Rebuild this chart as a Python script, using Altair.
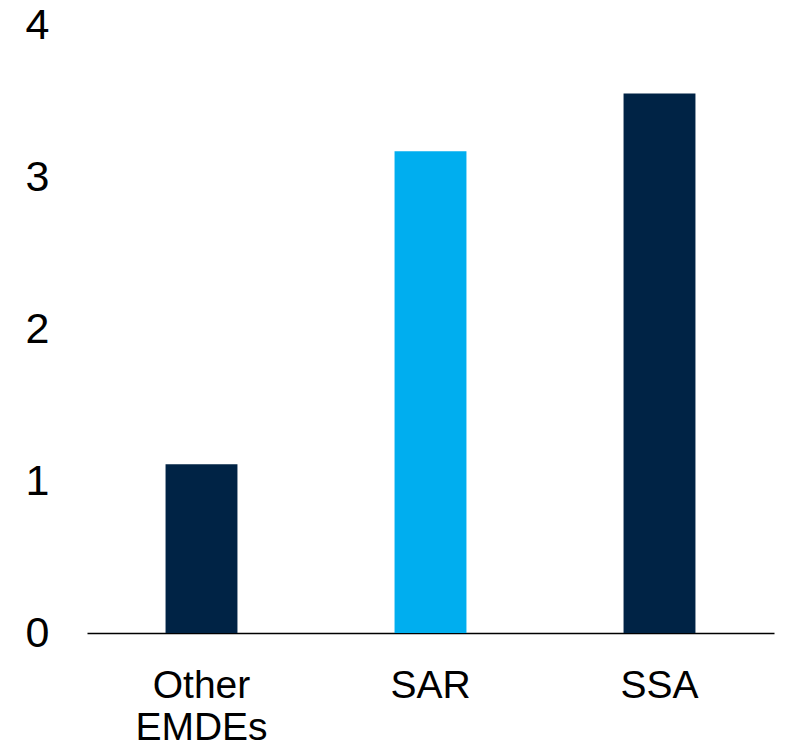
import altair as alt
import pandas as pd

categories = ["Other EMDEs", "SAR", "SSA"]
values = [1.11, 3.17, 3.55]
colors = ["#002345", "#00AEEF", "#002345"]

df = pd.DataFrame({"cat": categories, "val": values, "col": colors})

chart = alt.Chart(df).mark_bar().encode(
    x=alt.X("cat:N", sort=categories,
            scale=alt.Scale(paddingInner=0.686, paddingOuter=0.343),
            axis=alt.Axis(title=None, labelAngle=0, ticks=False, domain=True,
                          domainColor="black", domainWidth=1.5,
                          labelFont="Liberation Sans", labelFontSize=39,
                          labelColor="black", labelPadding=33,
                          labelLineHeight=42,
                          labelExpr="split(datum.label, ' ')")),
    y=alt.Y("val:Q", scale=alt.Scale(domain=[0, 4], nice=False),
            axis=alt.Axis(title=None, values=[0, 1, 2, 3, 4], format="d",
                          grid=False, domain=False, ticks=False,
                          labelFont="Liberation Sans", labelFontSize=43,
                          labelColor="black", labelPadding=38)),
    color=alt.Color("col:N", scale=None),
).properties(
    width=687, height=608,
    padding={"left": 87, "top": 25, "right": 11, "bottom": 116},
    autosize=alt.AutoSizeParams(type="none"),
).configure_view(stroke=None)

chart.save("out.html", embed_options={"renderer": "svg", "actions": False})
